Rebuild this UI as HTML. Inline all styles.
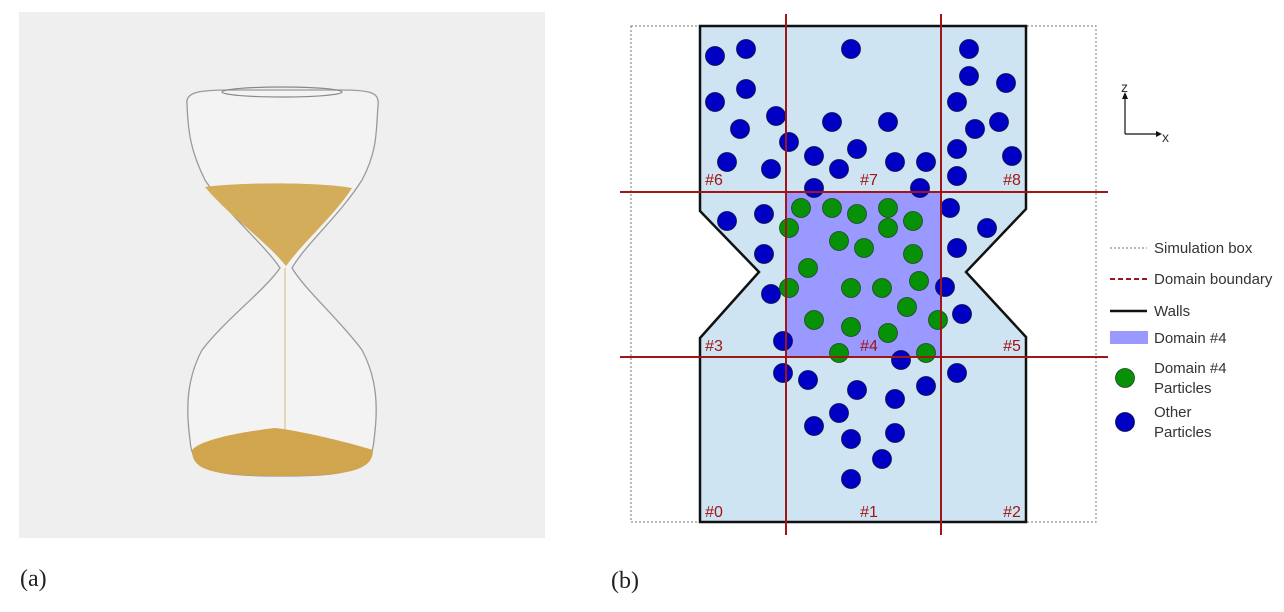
<!DOCTYPE html>
<html><head><meta charset="utf-8"><style>
html,body{margin:0;padding:0;background:#fff;}
svg{display:block;font-family:"Liberation Sans",sans-serif;}
</style></head><body>
<svg width="1284" height="612" viewBox="0 0 1284 612">
<g>
<rect x="19" y="12" width="526" height="526" fill="#efefef"/>
<path d="M187,104 C185,92 200,90 230,90 L340,90 C370,90 380,92 378,106 C376,130 378,150 362,180 C340,215 305,245 292,268 C305,290 340,320 362,350 C378,380 378,410 374,440 C372,470 350,476 282,476 C210,476 192,470 190,440 C186,410 186,380 202,350 C225,320 265,290 280,268 C265,245 228,215 205,180 C190,150 188,130 187,104 Z" fill="#f3f3f3" stroke="#9a9a9a" stroke-width="1.3"/>
<path d="M205,187 C240,182 320,182 352,188 C335,215 305,240 286,266 C265,240 228,215 205,187 Z" fill="#d4ad5a"/>
<line x1="285" y1="268" x2="285" y2="440" stroke="#d9b978" stroke-width="1"/>
<path d="M192,450 C200,440 240,432 275,428 C295,430 340,440 373,450 C373,470 350,476 282,476 C210,476 192,470 192,450 Z" fill="#d0a54e"/>
<ellipse cx="282" cy="92" rx="60" ry="5" fill="none" stroke="#888" stroke-width="1.2"/>
</g>
<text x="20" y="586" font-family="Liberation Serif,serif" font-size="24" fill="#222">(a)</text>
<text x="611" y="588" font-family="Liberation Serif,serif" font-size="24" fill="#222">(b)</text>

<rect x="631" y="26" width="465" height="496" fill="none" stroke="#777" stroke-width="1" stroke-dasharray="2,2"/>
<path d="M700,26 L1026,26 L1026,209 L966,272 L1026,337 L1026,522 L700,522 L700,338 L759,272 L700,211 Z" fill="#cfe4f2"/>
<rect x="786" y="192" width="155" height="165" fill="#9999ff"/>
<g id="particles"></g>
<path d="M700,26 L1026,26 L1026,209 L966,272 L1026,337 L1026,522 L700,522 L700,338 L759,272 L700,211 Z" fill="none" stroke="#111" stroke-width="2.5"/>
<g stroke="#a01515" stroke-width="2">
<line x1="786" y1="14" x2="786" y2="535"/><line x1="941" y1="14" x2="941" y2="535"/>
<line x1="620" y1="192" x2="1108" y2="192"/><line x1="620" y1="357" x2="1108" y2="357"/>
</g>
<g id="dlabels" font-size="16" fill="#a01515"></g>

<g stroke="#111" stroke-width="1.2" fill="#111">
<line x1="1125" y1="134" x2="1125" y2="98"/><polygon points="1122,99 1128,99 1125,92" stroke="none"/>
<line x1="1125" y1="134" x2="1157" y2="134"/><polygon points="1156,131 1156,137 1162,134" stroke="none"/>
</g>
<text x="1121" y="92" font-size="14" fill="#333">z</text>
<text x="1162" y="142" font-size="14" fill="#333">x</text>

<g font-size="15" fill="#333">
<line x1="1110" y1="248" x2="1147" y2="248" stroke="#777" stroke-dasharray="2,2"/>
<text x="1154" y="253">Simulation box</text>
<line x1="1110" y1="279" x2="1147" y2="279" stroke="#a01515" stroke-width="2" stroke-dasharray="5,3"/>
<text x="1154" y="284">Domain boundary</text>
<line x1="1110" y1="311" x2="1147" y2="311" stroke="#111" stroke-width="2.5"/>
<text x="1154" y="316">Walls</text>
<rect x="1110" y="331" width="38" height="13" fill="#9999ff"/>
<text x="1154" y="343">Domain #4</text>
<circle cx="1125" cy="378" r="9.5" fill="#079107" stroke="#224422" stroke-width="0.8"/>
<text x="1154" y="373">Domain #4</text><text x="1154" y="393">Particles</text>
<circle cx="1125" cy="422" r="9.5" fill="#0000c4" stroke="#111144" stroke-width="0.8"/>
<text x="1154" y="417">Other</text><text x="1154" y="437">Particles</text>
</g>
</svg>
<script>
const blueX=[715,746,851,969,969,1006,715,746,776,740,789,832,888,957,975,999,957,1012,727,771,814,857,839,895,926,957,814,920,727,764,764,771,950,987,957,962,945,783,783,808,901,957,926,857,895,839,814,851,895,882,851];
const blueY=[56,49,49,49,76,83,102,89,116,129,142,122,122,102,129,122,149,156,162,169,156,149,169,162,162,176,188,188,221,214,254,294,208,228,248,314,287,341,373,380,360,373,386,390,399,413,426,439,433,459,479];
const greenX=[801,832,857,888,913,789,888,839,864,913,808,919,789,851,882,907,814,851,888,938,839,926];
const greenY=[208,208,214,208,221,228,228,241,248,254,268,281,288,288,288,307,320,327,333,320,353,353];
const domainNames=["#0","#1","#2","#3","#4","#5","#6","#7","#8"];
const NS="http://www.w3.org/2000/svg";
const pg=document.getElementById('particles');
function dot(x,y,fill,stroke,name){
  const c=document.createElementNS(NS,'circle');
  c.setAttribute('cx',x);c.setAttribute('cy',y);c.setAttribute('r',9.5);
  c.setAttribute('fill',fill);c.setAttribute('stroke',stroke);c.setAttribute('stroke-width',0.8);
  
  
  pg.appendChild(c);
}
blueX.forEach((x,i)=>dot(x,blueY[i],'#0000c4','#111144','other-particle'));
greenX.forEach((x,i)=>dot(x,greenY[i],'#079107','#224422','domain4-particle'));
const lx=[714,869,1012], ly=[511,345,179];
const dl=document.getElementById('dlabels');
domainNames.forEach((n,i)=>{
  const t=document.createElementNS(NS,'text');
  t.setAttribute('x',lx[i%3]);t.setAttribute('y',ly[Math.floor(i/3)]+6);
  t.setAttribute('text-anchor','middle');
  t.textContent=n;
  
  
  dl.appendChild(t);
});
</script>
</body></html>
